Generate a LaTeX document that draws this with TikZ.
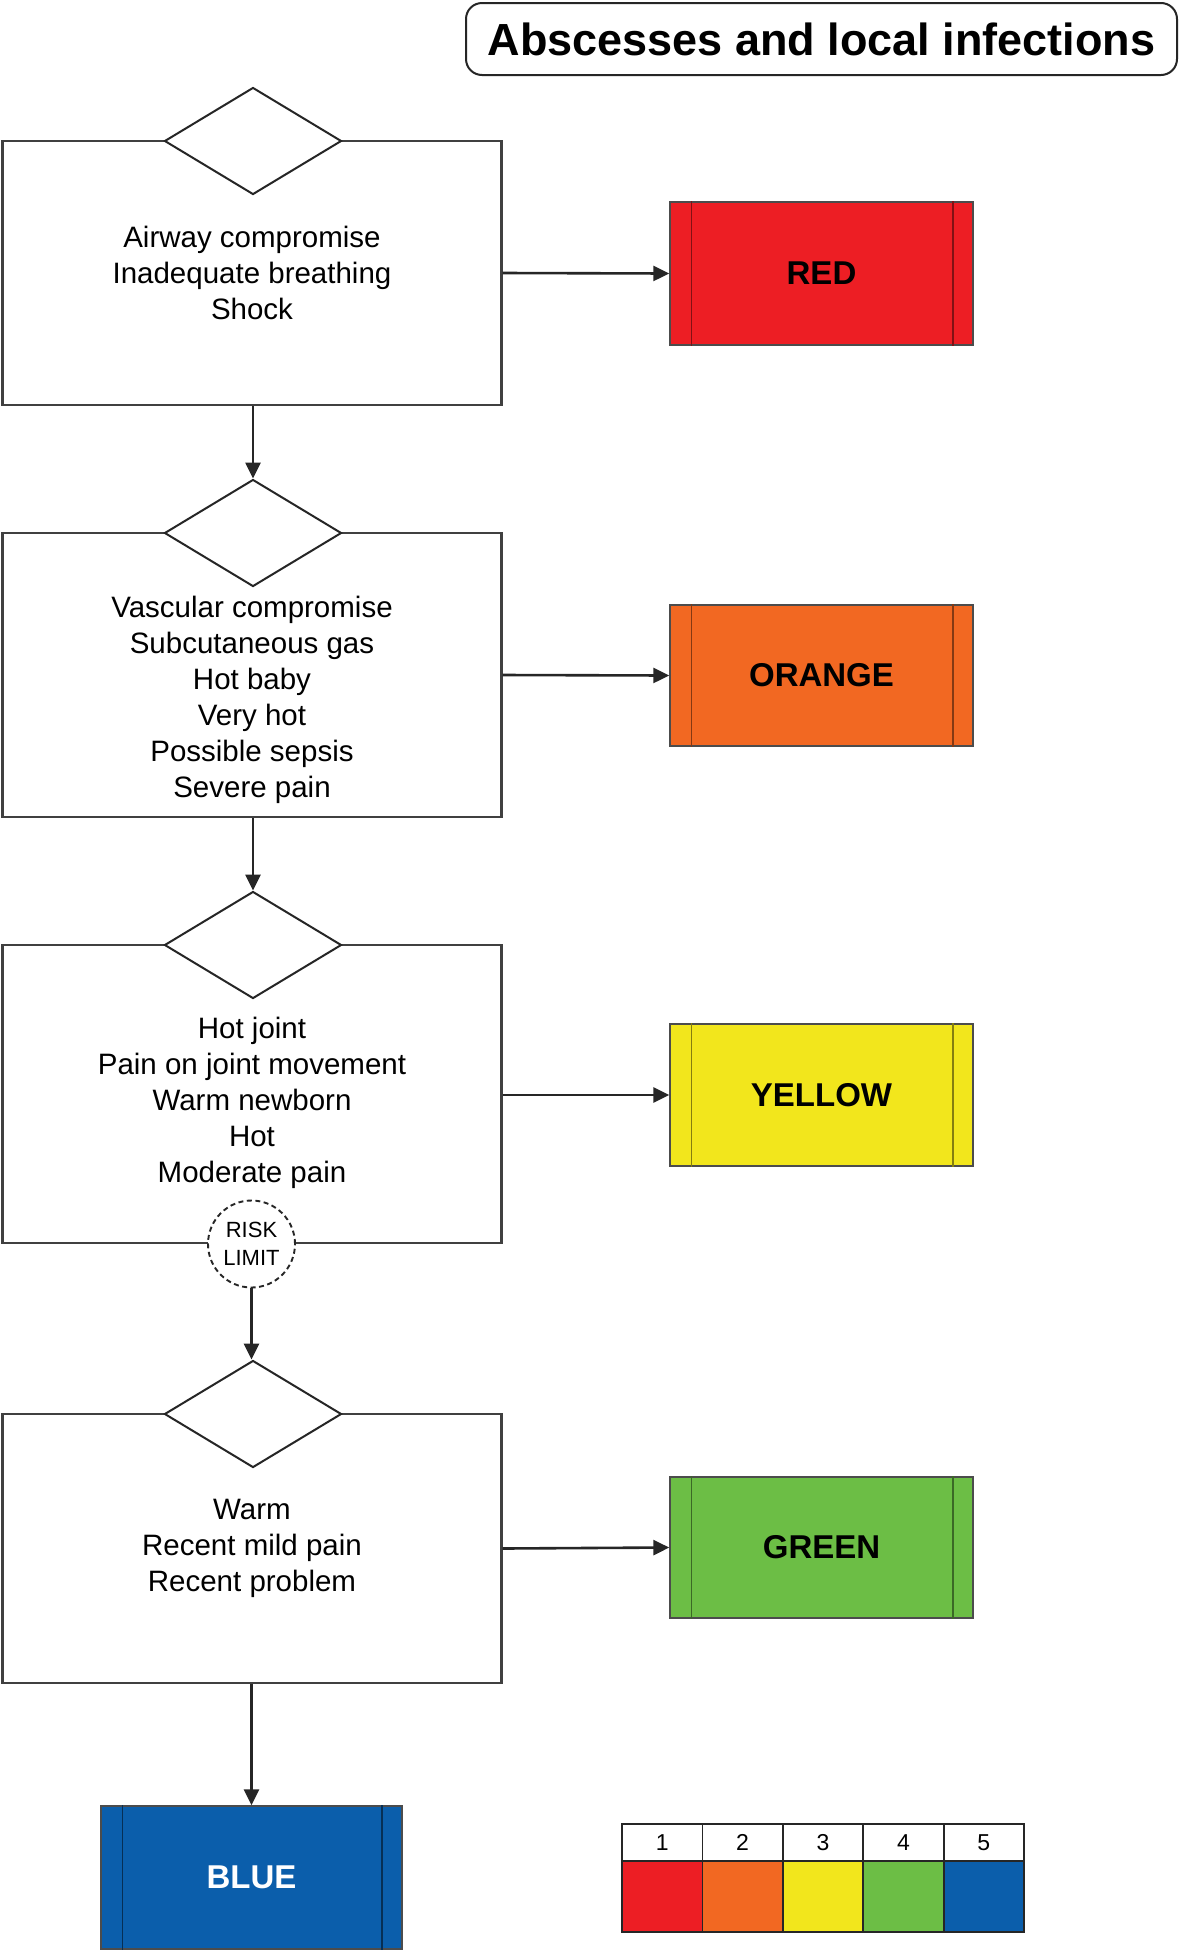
\documentclass[tikz,border=0pt]{standalone}
\usepackage{fontspec}
\setmainfont{Liberation Sans}
\usetikzlibrary{shapes.geometric,arrows.meta}
\definecolor{tred}{RGB}{237,30,36}
\definecolor{torange}{RGB}{242,104,34}
\definecolor{tyellow}{RGB}{242,230,28}
\definecolor{tgreen}{RGB}{108,190,69}
\definecolor{tblue}{RGB}{11,94,171}
\tikzset{
  critbox/.style={draw=black!75, line width=2.2pt, minimum width=499pt, inner sep=0pt},
  critdia/.style={diamond, draw=black!85, line width=2pt, fill=white, minimum width=177pt, minimum height=107pt, inner sep=0pt},
  crittext/.style={align=center, font=\fontsize{29.5}{36}\selectfont, inner sep=0pt},
  catbox/.style={draw=black!70, line width=1.4pt, fill=#1, minimum width=303pt, minimum height=142pt, inner sep=0pt,
     font=\fontsize{33}{36}\selectfont\bfseries},
  flow/.style={line width=2.6pt, draw=black!85, -{Triangle[length=16pt,width=15pt]}},
  legnum/.style={draw=black!85, line width=1.8pt, fill=white, minimum width=80.4pt, minimum height=37pt, inner sep=0pt, font=\fontsize{23}{24}\selectfont},
  legcol/.style={draw=black!85, line width=1.8pt, fill=#1, minimum width=80.4pt, minimum height=71pt, inner sep=0pt},
}
\newcommand{\innerlines}[2]{%
  \draw[#2, line width=1.6pt] ([xshift=22pt]#1.north west) -- ([xshift=22pt]#1.south west);
  \draw[#2, line width=1.6pt] ([xshift=-21pt]#1.north east) -- ([xshift=-21pt]#1.south east);
}
\begin{document}
\begin{tikzpicture}[x=1pt,y=-1pt]
\useasboundingbox[fill=white] (0,0) rectangle (1180,1952);

% title
\node[draw=black!85, line width=2pt, rounded corners=16pt, minimum width=711pt, minimum height=72pt, inner sep=0pt,
      font=\fontsize{45}{48}\selectfont\bfseries] (title) at (821.5,39) {Abscesses and local infections};

% level 1
\node[critbox, minimum height=264pt] (box1) at (252,273) {};
\node[critdia] (dia1) at (253,141) {};
\node[crittext] (t1) at (252,273) {Airway compromise\\Inadequate breathing\\Shock};
\node[catbox=tred, minimum height=143pt] (red) at (821.5,273.5) {RED};
\innerlines{red}{tred!55!black}

% level 2
\node[critbox, minimum height=284pt] (box2) at (252,675) {};
\node[critdia] (dia2) at (253,533) {};
\node[crittext] (t2) at (252,700) {Vascular compromise\\Subcutaneous gas\\Hot baby\\Very hot\\Possible sepsis\\Severe pain};
\node[catbox=torange, minimum height=141pt] (orange) at (821.5,675.5) {ORANGE};
\innerlines{orange}{torange!55!black}

% level 3
\node[critbox, minimum height=298pt] (box3) at (252,1094) {};
\node[critdia] (dia3) at (253,945) {};
\node[crittext] (t3) at (252,1103) {Hot joint\\Pain on joint movement\\Warm newborn\\Hot\\Moderate pain};
\node[catbox=tyellow, minimum height=142pt] (yellow) at (821.5,1095) {YELLOW};
\innerlines{yellow}{tyellow!55!black}
\node[circle, draw=black!85, dash pattern=on 5pt off 3.5pt, line width=1.9pt, fill=white, minimum size=87pt, inner sep=0pt, align=center,
      font=\fontsize{22}{28}\selectfont] (risk) at (251.5,1244) {RISK\\LIMIT};

% level 4
\node[critbox, minimum height=269pt] (box4) at (252,1548.5) {};
\node[critdia] (dia4) at (253,1414) {};
\node[crittext] (t4) at (252,1548) {Warm\\Recent mild pain\\Recent problem};
\node[catbox=tgreen, minimum height=141pt] (green) at (821.5,1547.5) {GREEN};
\innerlines{green}{tgreen!55!black}

% blue
\node[catbox=tblue, text=white, minimum width=301pt, minimum height=143pt] (blue) at (251.5,1877.5) {BLUE};
\innerlines{blue}{tblue!50!black}

% connectors
\draw[flow] (box1.east) -- (red.west);
\draw[flow] (box2.east) -- (orange.west);
\draw[flow] (box3.east |- yellow.west) -- (yellow.west);
\draw[flow] (box4.east) -- (green.west);
\draw[flow] (box1.south -| dia2.north) -- (dia2.north);
\draw[flow] (box2.south -| dia3.north) -- (dia3.north);
\draw[flow] (risk.south) -- (risk.south |- dia4.north);
\draw[flow] (box4.south -| blue.north) -- (blue.north);

% legend
\foreach \i/\c in {1/tred,2/torange,3/tyellow,4/tgreen,5/tblue}{
  \node[legnum] (n\i) at ({622+80.4*(\i-0.5)},1842.5) {\i};
  \node[legcol=\c] (c\i) at ({622+80.4*(\i-0.5)},1896.5) {};
}
\end{tikzpicture}
\end{document}
